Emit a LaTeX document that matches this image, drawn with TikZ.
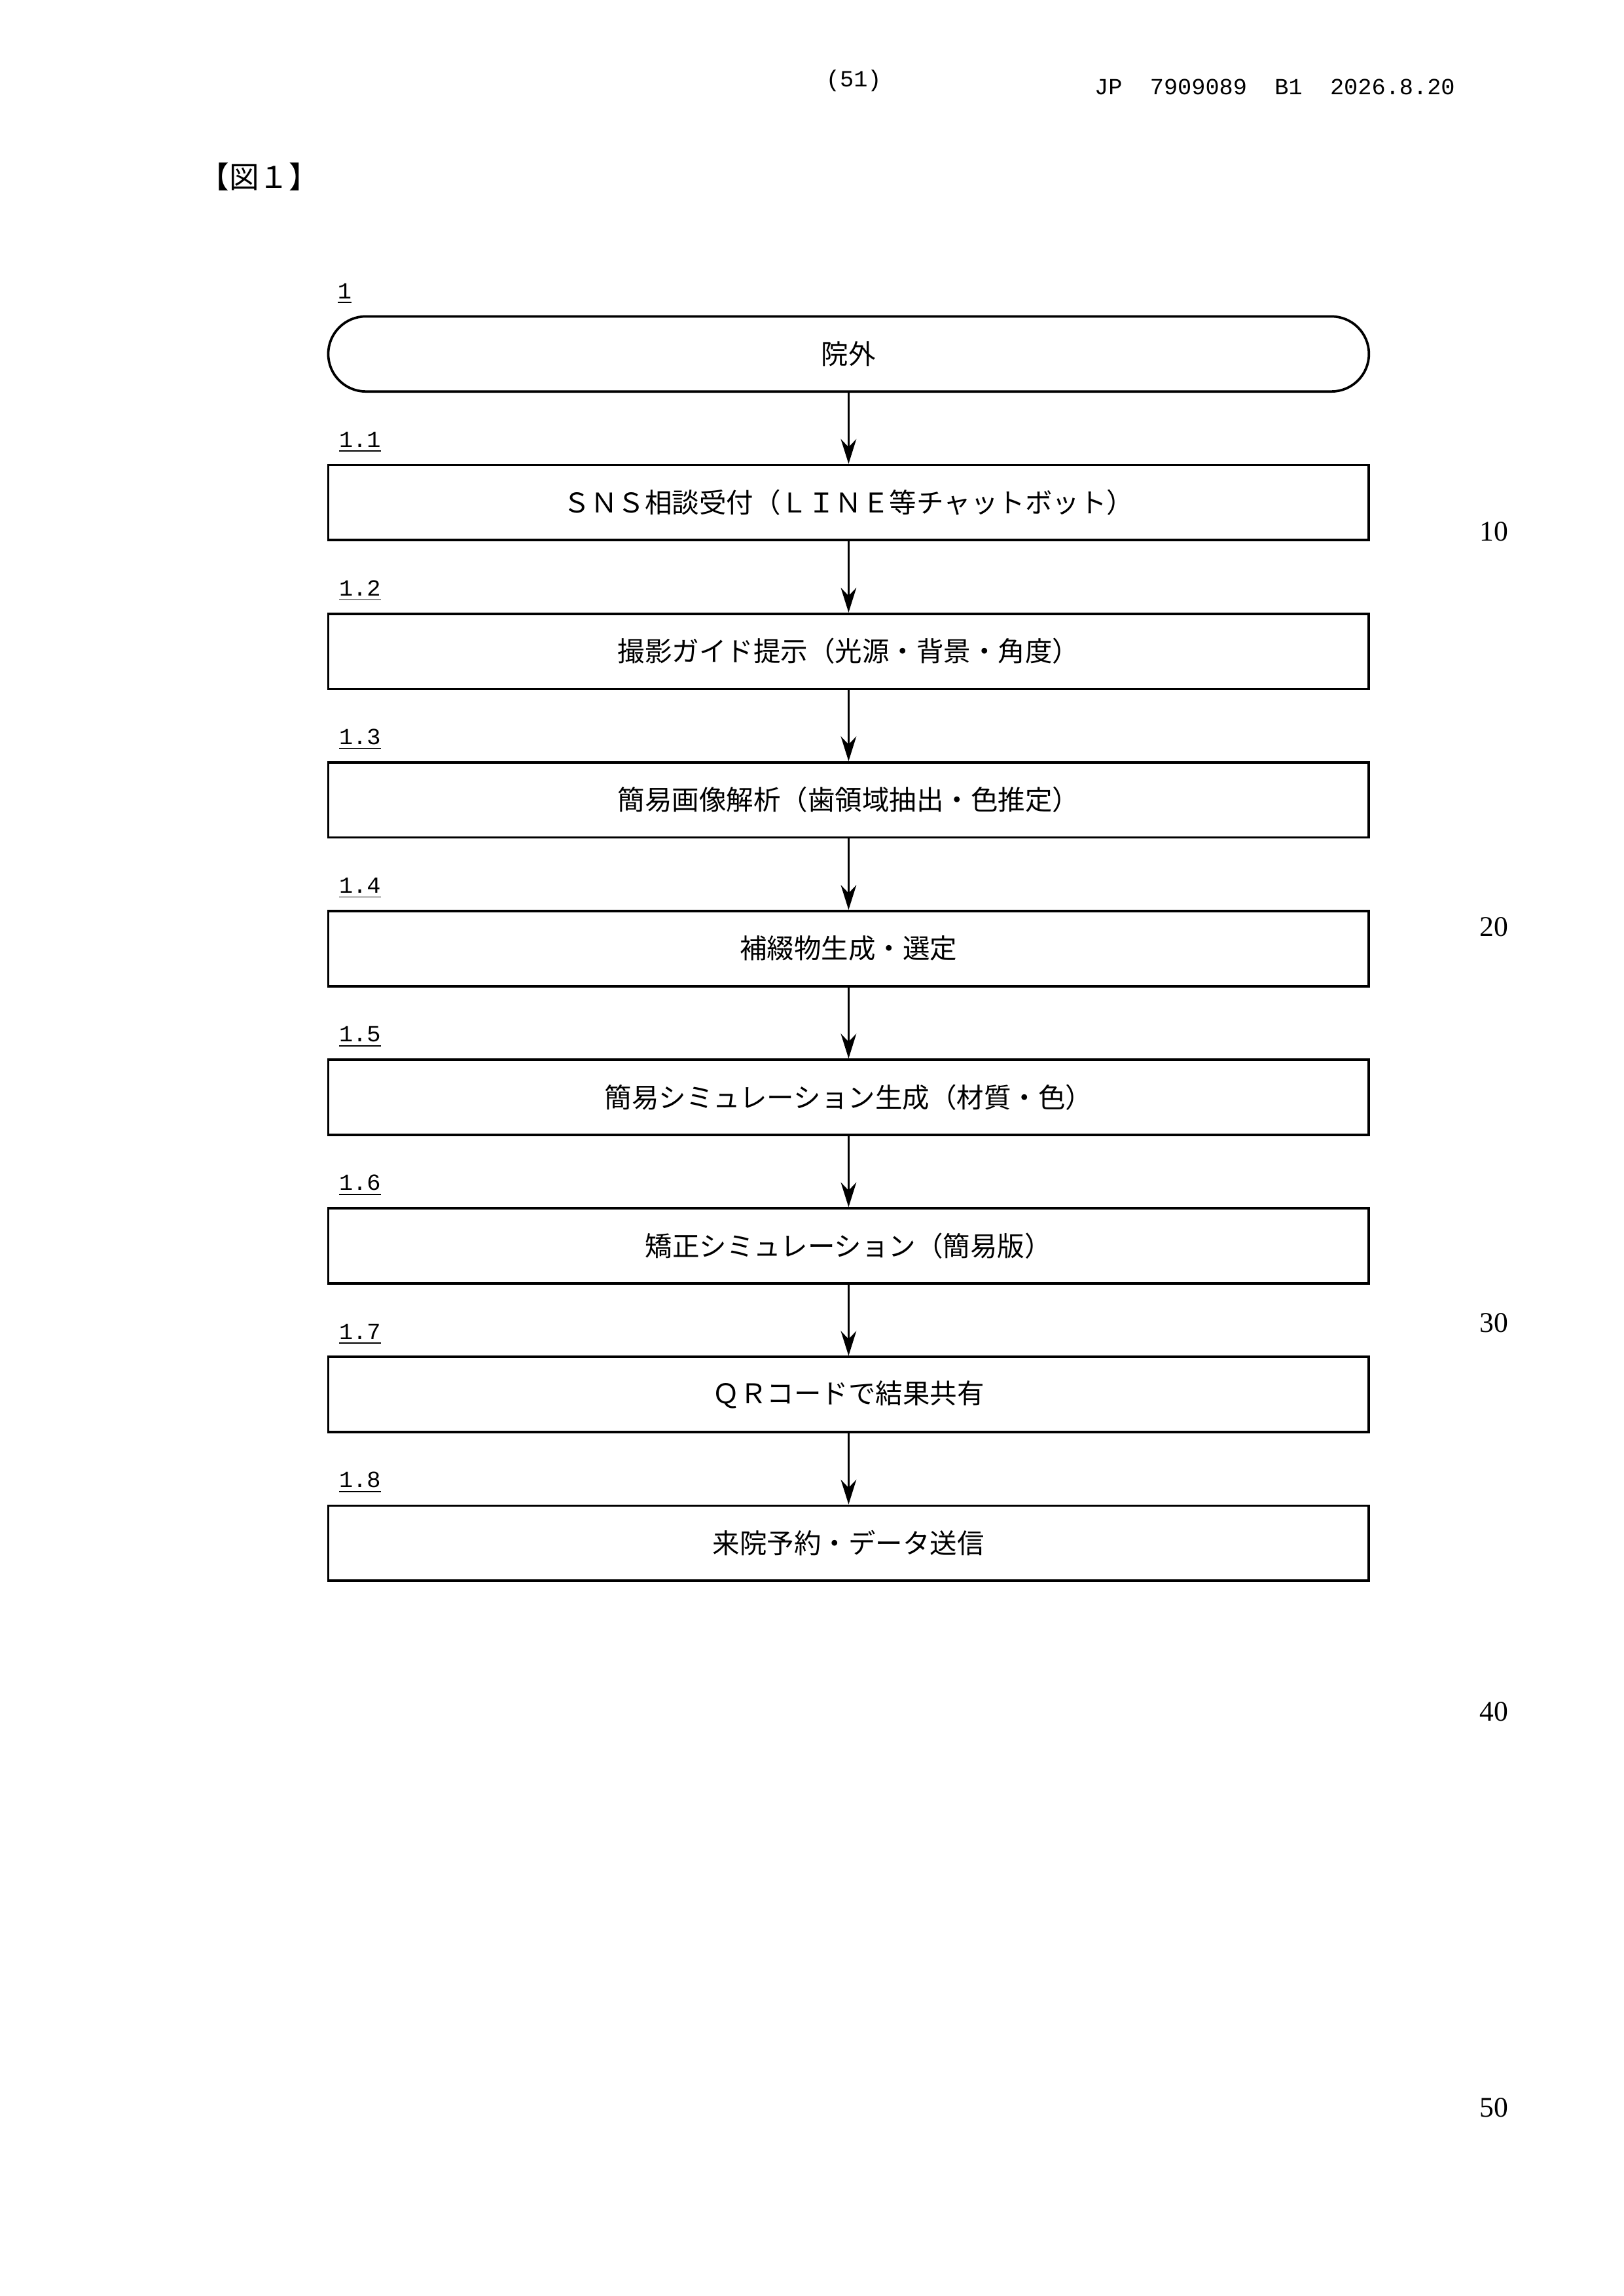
\documentclass[tikz,border=0pt]{standalone}
\usepackage{fontspec}
\setmainfont{Liberation Serif}
\newfontfamily\jp{Noto Sans CJK JP}
\newfontfamily\mono{Liberation Mono}
\usetikzlibrary{arrows.meta}
\begin{document}
\begin{tikzpicture}[x=0.19039mm,y=-0.19039mm,
  box/.style={draw,line width=0.9pt,minimum width=707*0.19039mm,minimum height=51*0.19039mm,inner sep=0pt,font=\jp\fontsize{10}{12}\selectfont},
  lab/.style={anchor=south west,inner sep=0pt,font=\mono\fontsize{8.5}{10}\selectfont},
  arr/.style={-{Stealth[length=3.2mm,width=2mm]},line width=0.9pt},
  num/.style={font=\fontsize{10.5}{12}\selectfont}]
\useasboundingbox (0,0) rectangle (1103,1560);
\fill[white] (0,0) rectangle (1103,1560);
\node[font=\mono\fontsize{8.5}{10}\selectfont] (pg) at (580,55) {(51)};
\node[font=\mono\fontsize{8.5}{10}\selectfont] (hd) at (866,59) {JP\ \ 7909089\ \ B1\ \ 2026.8.20};
\node[font=\jp\fontsize{11}{13}\selectfont] (fig) at (176,120) {【図１】};
\node[box,rounded corners=25.5*0.19039mm] (n0) at (576.5,240.5) {院外};
\node[lab] (l0) at (229,207) {\underline{1}};
\foreach \i/\t in {1/ＳＮＳ相談受付（ＬＩＮＥ等チャットボット）,2/撮影ガイド提示（光源・背景・角度）,3/簡易画像解析（歯領域抽出・色推定）,4/補綴物生成・選定,5/簡易シミュレーション生成（材質・色）,6/矯正シミュレーション（簡易版）,7/ＱＲコードで結果共有,8/来院予約・データ送信}{
  \node[box] (n\i) at (576.5,240.5+\i*101) {\t};
  \node[lab] (l\i) at (230,207+\i*101) {\underline{1.\i}};
}
\foreach \a/\b in {0/1,1/2,2/3,3/4,4/5,5/6,6/7,7/8}{\draw[arr] (n\a) -- (n\b);}
\node[num] (m10) at (1015,361) {10};
\node[num] (m20) at (1015,630) {20};
\node[num] (m30) at (1015,899) {30};
\node[num] (m40) at (1015,1163) {40};
\node[num] (m50) at (1015,1432) {50};
\end{tikzpicture}
\end{document}
